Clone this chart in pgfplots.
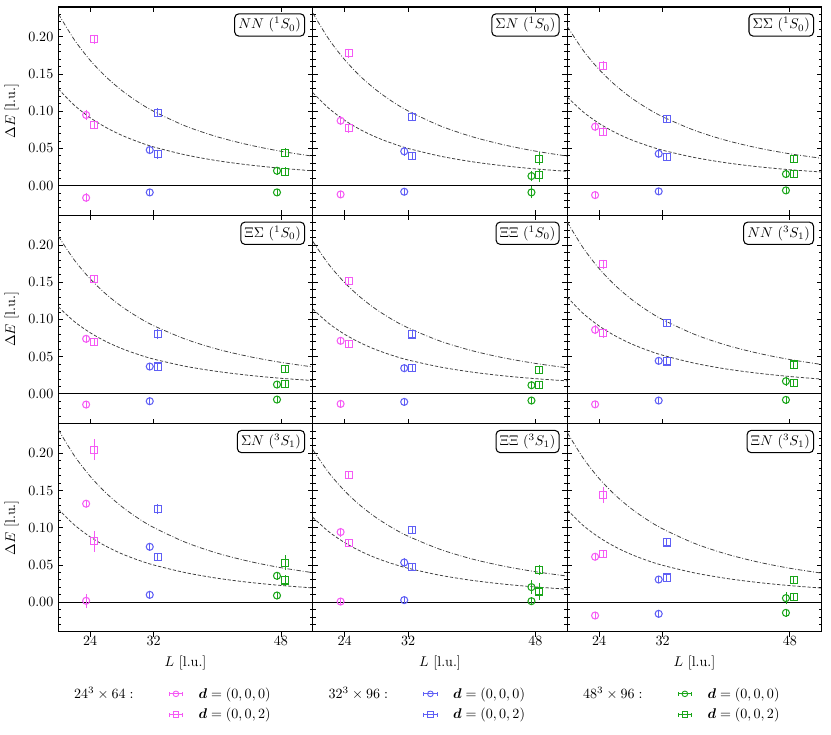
\documentclass[border=0pt]{standalone}
\usepackage{amsmath}
\usepackage{pgfplots}
\pgfplotsset{compat=1.18}
\usepgfplotslibrary{groupplots}

\definecolor{cmag}{RGB}{245,90,245}
\definecolor{cblue}{RGB}{95,95,245}
\definecolor{cgreen}{RGB}{25,165,25}

\tikzset{lbl/.style={draw, fill=white, rounded corners=3pt, line width=0.75pt, anchor=north east, inner sep=2.6pt}}
\pgfplotsset{
  ddcurve/.style={black!75, line width=0.55pt, dash pattern=on 3.2pt off 1.3pt on 0.6pt off 1.3pt, forget plot, smooth, no marks},
  dcurve/.style={black!75, line width=0.55pt, dash pattern=on 2.3pt off 1.3pt, forget plot, smooth, no marks},
  zl/.style={black, line width=0.5pt, forget plot, no marks},
  pt/.style={forget plot, only marks, line width=0.75pt, mark size=2.5pt, mark options={solid},
    error bars/.cd, y dir=both, y explicit, error bar style={line width=0.6pt, solid},
    error mark options={line width=0.6pt, mark size=1.6pt, solid}},
  legcirc/.style={legend image code/.code={
    \draw[line width=0.65pt] (0pt,0pt) -- (9.5pt,0pt) (0pt,-1.4pt) -- (0pt,1.4pt) (9.5pt,-1.4pt) -- (9.5pt,1.4pt);
    \draw[line width=0.65pt] (4.75pt,0pt) circle (2pt);}},
  legsq/.style={legend image code/.code={
    \draw[line width=0.65pt] (0pt,0pt) -- (9.5pt,0pt) (0pt,-1.4pt) -- (0pt,1.4pt) (9.5pt,-1.4pt) -- (9.5pt,1.4pt);
    \draw[line width=0.65pt] (2.75pt,-2pt) rectangle (6.75pt,2pt);}},
  legbottom/.style={legend style={draw=none, fill=none, at={(rel axis cs:0.0,-0.25)}, anchor=north west,
    legend columns=2, inner sep=0pt, row sep=1.5pt, legend cell align=left,
    /tikz/every odd column/.append style={column sep=9pt},
    /tikz/every even column/.append style={column sep=23pt}}},
}

\newcommand{\ser}[7]{\addplot[#1, mark=#2, pt] coordinates {(#3,#4) +- (0,#5) (#3,#6) +- (0,#7)};}

\begin{document}
\begin{tikzpicture}
\begin{groupplot}[
  group style={group name=G, group size=3 by 3, horizontal sep=0pt, vertical sep=0pt,
    xticklabels at=edge bottom, yticklabels at=edge left, xlabels at=edge bottom, ylabels at=edge left},
  width=180.7pt, height=147.9pt, scale only axis,
  xmin=20, xmax=52, ymin=-0.04, ymax=0.24,
  xtick={24,32,48}, ytick={0,0.05,0.1,0.15,0.2},
  minor ytick={-0.03,-0.02,-0.01,0.01,0.02,0.03,0.04,0.06,0.07,0.08,0.09,0.11,0.12,0.13,0.14,0.16,0.17,0.18,0.19,0.21,0.22,0.23},
  yticklabel style={/pgf/number format/.cd, fixed, fixed zerofill, precision=2},
  tick align=inside, major tick length=3.5pt, minor tick length=2pt,
  every tick/.append style={black, line width=0.6pt},
  axis line style={line width=0.8pt},
  xlabel={$L$ [l.u.]}, ylabel={$\Delta E$ [l.u.]},
]
% ---------- NN 1S0
\nextgroupplot
\addplot[dcurve] coordinates {(20,0.1300) (22,0.1081) (24,0.0913) (26,0.0781) (28,0.0675) (30,0.0590) (32,0.0519) (36,0.0412) (40,0.0334) (44,0.0277) (48,0.0233) (52,0.0198)};
\addplot[ddcurve] coordinates {(20,0.2310) (22,0.1963) (24,0.1685) (26,0.1461) (28,0.1277) (30,0.1125) (32,0.0998) (36,0.0800) (40,0.0655) (44,0.0546) (48,0.0461) (52,0.0395)};
\addplot[zl] coordinates {(20,0) (52,0)};
\ser{cmag}{o}{23.5}{0.0949}{0.004}{-0.0164}{0.003}
\ser{cmag}{square}{24.5}{0.1968}{0.003}{0.0814}{0.003}
\ser{cblue}{o}{31.5}{0.0478}{0.003}{-0.0092}{0.002}
\ser{cblue}{square}{32.5}{0.0980}{0.003}{0.0424}{0.003}
\ser{cgreen}{o}{47.5}{0.0199}{0.002}{-0.0092}{0.002}
\ser{cgreen}{square}{48.5}{0.0441}{0.003}{0.0186}{0.003}
\node[lbl] at (rel axis cs:0.97,0.97) {$NN$ $({}^1S_0)$};
% ---------- SigmaN 1S0
\nextgroupplot
\addplot[dcurve] coordinates {(20,0.1250) (22,0.1040) (24,0.0878) (26,0.0751) (28,0.0649) (30,0.0567) (32,0.0499) (36,0.0396) (40,0.0321) (44,0.0266) (48,0.0224) (52,0.0191)};
\addplot[ddcurve] coordinates {(20,0.2320) (22,0.1971) (24,0.1693) (26,0.1467) (28,0.1283) (30,0.1130) (32,0.1003) (36,0.0804) (40,0.0658) (44,0.0548) (48,0.0463) (52,0.0396)};
\addplot[zl] coordinates {(20,0) (52,0)};
\ser{cmag}{o}{23.5}{0.0872}{0.003}{-0.0119}{0.002}
\ser{cmag}{square}{24.5}{0.1780}{0.003}{0.0770}{0.003}
\ser{cblue}{o}{31.5}{0.0460}{0.003}{-0.0083}{0.002}
\ser{cblue}{square}{32.5}{0.0926}{0.003}{0.0397}{0.002}
\ser{cgreen}{o}{47.5}{0.0128}{0.004}{-0.0092}{0.005}
\ser{cgreen}{square}{48.5}{0.0361}{0.006}{0.0137}{0.006}
\node[lbl] at (rel axis cs:0.97,0.97) {$\Sigma N$ $({}^1S_0)$};
% ---------- SigmaSigma 1S0
\nextgroupplot
\addplot[dcurve] coordinates {(20,0.1190) (22,0.0990) (24,0.0836) (26,0.0715) (28,0.0618) (30,0.0540) (32,0.0475) (36,0.0377) (40,0.0306) (44,0.0253) (48,0.0213) (52,0.0182)};
\addplot[ddcurve] coordinates {(20,0.2140) (22,0.1818) (24,0.1561) (26,0.1354) (28,0.1183) (30,0.1043) (32,0.0925) (36,0.0742) (40,0.0607) (44,0.0505) (48,0.0427) (52,0.0366)};
\addplot[zl] coordinates {(20,0) (52,0)};
\ser{cmag}{o}{23.5}{0.0791}{0.003}{-0.0128}{0.002}
\ser{cmag}{square}{24.5}{0.1612}{0.003}{0.0724}{0.003}
\ser{cblue}{o}{31.5}{0.0428}{0.003}{-0.0078}{0.002}
\ser{cblue}{square}{32.5}{0.0891}{0.002}{0.0384}{0.002}
\ser{cgreen}{o}{47.5}{0.0155}{0.002}{-0.0065}{0.002}
\ser{cgreen}{square}{48.5}{0.0361}{0.002}{0.0155}{0.002}
\node[lbl] at (rel axis cs:0.97,0.97) {$\Sigma\Sigma$ $({}^1S_0)$};
% ---------- XiSigma 1S0
\nextgroupplot
\addplot[dcurve] coordinates {(20,0.1170) (22,0.0973) (24,0.0822) (26,0.0703) (28,0.0608) (30,0.0531) (32,0.0467) (36,0.0370) (40,0.0301) (44,0.0249) (48,0.0209) (52,0.0179)};
\addplot[ddcurve] coordinates {(20,0.2120) (22,0.1801) (24,0.1547) (26,0.1341) (28,0.1172) (30,0.1033) (32,0.0916) (36,0.0735) (40,0.0601) (44,0.0501) (48,0.0423) (52,0.0362)};
\addplot[zl] coordinates {(20,0) (52,0)};
\ser{cmag}{o}{23.5}{0.0740}{0.002}{-0.0144}{0.002}
\ser{cmag}{square}{24.5}{0.1538}{0.002}{0.0695}{0.002}
\ser{cblue}{o}{31.5}{0.0367}{0.002}{-0.0099}{0.002}
\ser{cblue}{square}{32.5}{0.0807}{0.004}{0.0367}{0.002}
\ser{cgreen}{o}{47.5}{0.0125}{0.002}{-0.0077}{0.002}
\ser{cgreen}{square}{48.5}{0.0336}{0.002}{0.0129}{0.002}
\node[lbl] at (rel axis cs:0.97,0.97) {$\Xi\Sigma$ $({}^1S_0)$};
% ---------- XiXi 1S0
\nextgroupplot
\addplot[dcurve] coordinates {(20,0.1140) (22,0.0948) (24,0.0801) (26,0.0685) (28,0.0592) (30,0.0517) (32,0.0455) (36,0.0361) (40,0.0293) (44,0.0242) (48,0.0204) (52,0.0174)};
\addplot[ddcurve] coordinates {(20,0.2050) (22,0.1742) (24,0.1496) (26,0.1297) (28,0.1134) (30,0.0999) (32,0.0886) (36,0.0710) (40,0.0581) (44,0.0484) (48,0.0409) (52,0.0350)};
\addplot[zl] coordinates {(20,0) (52,0)};
\ser{cmag}{o}{23.5}{0.0713}{0.002}{-0.0135}{0.002}
\ser{cmag}{square}{24.5}{0.1520}{0.002}{0.0673}{0.002}
\ser{cblue}{o}{31.5}{0.0345}{0.002}{-0.0108}{0.002}
\ser{cblue}{square}{32.5}{0.0798}{0.002}{0.0345}{0.002}
\ser{cgreen}{o}{47.5}{0.0116}{0.002}{-0.0090}{0.002}
\ser{cgreen}{square}{48.5}{0.0318}{0.002}{0.0116}{0.002}
\node[lbl] at (rel axis cs:0.97,0.97) {$\Xi\Xi$ $({}^1S_0)$};
% ---------- NN 3S1
\nextgroupplot
\addplot[dcurve] coordinates {(20,0.1300) (22,0.1081) (24,0.0913) (26,0.0781) (28,0.0675) (30,0.0590) (32,0.0519) (36,0.0412) (40,0.0334) (44,0.0277) (48,0.0233) (52,0.0198)};
\addplot[ddcurve] coordinates {(20,0.2310) (22,0.1963) (24,0.1685) (26,0.1461) (28,0.1277) (30,0.1125) (32,0.0998) (36,0.0800) (40,0.0655) (44,0.0546) (48,0.0461) (52,0.0395)};
\addplot[zl] coordinates {(20,0) (52,0)};
\ser{cmag}{o}{23.5}{0.0861}{0.003}{-0.0141}{0.002}
\ser{cmag}{square}{24.5}{0.1740}{0.003}{0.0816}{0.003}
\ser{cblue}{o}{31.5}{0.0444}{0.002}{-0.0090}{0.002}
\ser{cblue}{square}{32.5}{0.0950}{0.002}{0.0435}{0.003}
\ser{cgreen}{o}{47.5}{0.0170}{0.003}{-0.0081}{0.002}
\ser{cgreen}{square}{48.5}{0.0394}{0.003}{0.0148}{0.002}
\node[lbl] at (rel axis cs:0.97,0.97) {$NN$ $({}^3S_1)$};
% ---------- SigmaN 3S1
\nextgroupplot[legbottom, every x tick/.append style={yshift=-3.5pt}, xtick pos=left]
\addlegendimage{empty legend}\addlegendentry{$24^3\times 64:$}
\addlegendimage{cmag, legcirc}\addlegendentry{$\boldsymbol{d}=(0,0,0)$}
\addlegendimage{empty legend}\addlegendentry{}
\addlegendimage{cmag, legsq}\addlegendentry{$\boldsymbol{d}=(0,0,2)$}
\addplot[dcurve] coordinates {(20,0.1250) (22,0.1040) (24,0.0878) (26,0.0751) (28,0.0649) (30,0.0567) (32,0.0499) (36,0.0396) (40,0.0321) (44,0.0266) (48,0.0224) (52,0.0191)};
\addplot[ddcurve] coordinates {(20,0.2320) (22,0.1971) (24,0.1693) (26,0.1467) (28,0.1283) (30,0.1130) (32,0.1003) (36,0.0804) (40,0.0658) (44,0.0548) (48,0.0463) (52,0.0396)};
\addplot[zl] coordinates {(20,0) (52,0)};
\ser{cmag}{o}{23.5}{0.1323}{0.002}{0.0018}{0.006}
\ser{cmag}{square}{24.5}{0.2050}{0.011}{0.0816}{0.011}
\ser{cblue}{o}{31.5}{0.0744}{0.002}{0.0098}{0.002}
\ser{cblue}{square}{32.5}{0.1252}{0.004}{0.0605}{0.002}
\ser{cgreen}{o}{47.5}{0.0354}{0.002}{0.0089}{0.002}
\ser{cgreen}{square}{48.5}{0.0529}{0.007}{0.0291}{0.004}
\node[lbl] at (rel axis cs:0.97,0.97) {$\Sigma N$ $({}^3S_1)$};
% ---------- XiXi 3S1
\nextgroupplot[legbottom, every x tick/.append style={yshift=-3.5pt}, xtick pos=left]
\addlegendimage{empty legend}\addlegendentry{$32^3\times 96:$}
\addlegendimage{cblue, legcirc}\addlegendentry{$\boldsymbol{d}=(0,0,0)$}
\addlegendimage{empty legend}\addlegendentry{}
\addlegendimage{cblue, legsq}\addlegendentry{$\boldsymbol{d}=(0,0,2)$}
\addplot[dcurve] coordinates {(20,0.1140) (22,0.0948) (24,0.0801) (26,0.0685) (28,0.0592) (30,0.0517) (32,0.0455) (36,0.0361) (40,0.0293) (44,0.0242) (48,0.0204) (52,0.0174)};
\addplot[ddcurve] coordinates {(20,0.2050) (22,0.1742) (24,0.1496) (26,0.1297) (28,0.1134) (30,0.0999) (32,0.0886) (36,0.0710) (40,0.0581) (44,0.0484) (48,0.0409) (52,0.0350)};
\addplot[zl] coordinates {(20,0) (52,0)};
\ser{cmag}{o}{23.5}{0.0942}{0.003}{0.0008}{0.002}
\ser{cmag}{square}{24.5}{0.1710}{0.002}{0.0798}{0.002}
\ser{cblue}{o}{31.5}{0.0533}{0.003}{0.0027}{0.002}
\ser{cblue}{square}{32.5}{0.0973}{0.002}{0.0471}{0.002}
\ser{cgreen}{o}{47.5}{0.0202}{0.006}{0.0013}{0.002}
\ser{cgreen}{square}{48.5}{0.0435}{0.004}{0.0143}{0.008}
\node[lbl] at (rel axis cs:0.97,0.97) {$\Xi\Xi$ $({}^3S_1)$};
% ---------- XiN 3S1
\nextgroupplot[legbottom, every x tick/.append style={yshift=-3.5pt}, xtick pos=left]
\addlegendimage{empty legend}\addlegendentry{$48^3\times 96:$}
\addlegendimage{cgreen, legcirc}\addlegendentry{$\boldsymbol{d}=(0,0,0)$}
\addlegendimage{empty legend}\addlegendentry{}
\addlegendimage{cgreen, legsq}\addlegendentry{$\boldsymbol{d}=(0,0,2)$}
\addplot[dcurve] coordinates {(20,0.1240) (22,0.1031) (24,0.0871) (26,0.0745) (28,0.0644) (30,0.0562) (32,0.0495) (36,0.0393) (40,0.0319) (44,0.0264) (48,0.0222) (52,0.0189)};
\addplot[ddcurve] coordinates {(20,0.2280) (22,0.1937) (24,0.1663) (26,0.1442) (28,0.1261) (30,0.1111) (32,0.0985) (36,0.0790) (40,0.0647) (44,0.0539) (48,0.0455) (52,0.0390)};
\addplot[zl] coordinates {(20,0) (52,0)};
\ser{cmag}{o}{23.5}{0.0610}{0.002}{-0.0180}{0.002}
\ser{cmag}{square}{24.5}{0.1440}{0.008}{0.0650}{0.002}
\ser{cblue}{o}{31.5}{0.0304}{0.002}{-0.0157}{0.002}
\ser{cblue}{square}{32.5}{0.0802}{0.002}{0.0331}{0.002}
\ser{cgreen}{o}{47.5}{0.0054}{0.005}{-0.0144}{0.002}
\ser{cgreen}{square}{48.5}{0.0296}{0.002}{0.0067}{0.002}
\node[lbl] at (rel axis cs:0.97,0.97) {$\Xi N$ $({}^3S_1)$};
\end{groupplot}
\pgfresetboundingbox
\path ([shift={(-41.4pt,5pt)}]G c1r1.north west) rectangle ([shift={(6.6pt,-72.8pt)}]G c3r3.south east);
\end{tikzpicture}
\end{document}
